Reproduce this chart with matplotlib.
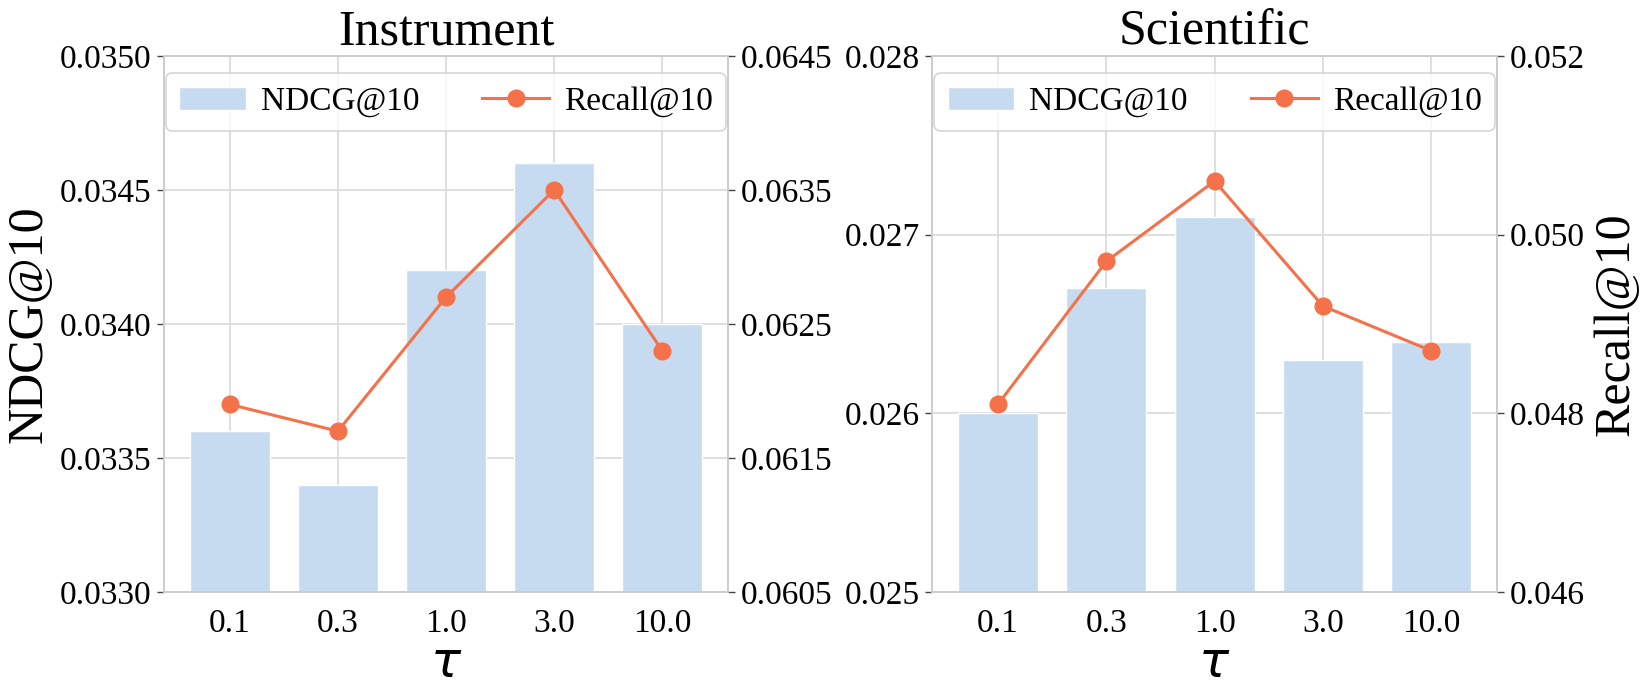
import numpy as np
import matplotlib
matplotlib.use('Agg')
import matplotlib.pyplot as plt

# Data
taus = ['0.1', '0.3', '1.0', '3.0', '10.0']

instrument_ndcg = [0.0336, 0.0334, 0.0342, 0.0346, 0.0340]
instrument_recall = [0.0619, 0.0617, 0.0627, 0.0635, 0.0623]

scientific_ndcg = [0.0260, 0.0267, 0.0271, 0.0263, 0.0264]
scientific_recall = [0.0481, 0.0497, 0.0506, 0.0492, 0.0487]

instrument_left_ticks = [0.0330, 0.0335, 0.0340, 0.0345, 0.0350]
instrument_right_ticks = [0.0605, 0.0615, 0.0625, 0.0635, 0.0645]
scientific_left_ticks = [0.025, 0.026, 0.027, 0.028]
scientific_right_ticks = [0.046, 0.048, 0.050, 0.052]

bar_color = '#c6dbef'
line_color = '#f4714a'
grid_color = '#d9d9d9'
spine_color = '#cccccc'

plt.rcParams['font.family'] = ['Liberation Serif', 'DejaVu Serif']
plt.rcParams['mathtext.fontset'] = 'dejavusans'

fig = plt.figure(figsize=(16.44, 6.97), dpi=100)
ax_a = fig.add_axes([0.0998, 0.1507, 0.343, 0.769])
ax_b = fig.add_axes([0.567, 0.1507, 0.3436, 0.769])


def draw_panel(ax, title, ndcg, recall, left_ticks, right_ticks, left_fmt, right_fmt,
               show_left_label, show_right_label):
    x = np.arange(len(taus))
    ax.set_axisbelow(True)
    bars = ax.bar(x, ndcg, width=0.74, color=bar_color, edgecolor='white',
                  linewidth=1, label='NDCG@10', zorder=2)
    ax.set_ylim(left_ticks[0], left_ticks[-1])
    ax.set_yticks(left_ticks)
    ax.set_yticklabels([left_fmt.format(t) for t in left_ticks])
    ax.set_xticks(x)
    ax.set_xticklabels(taus)
    ax.grid(True, color=grid_color, linewidth=1.2, zorder=0)
    ax.tick_params(axis='x', length=0, pad=12, labelsize=24)
    ax.tick_params(axis='y', length=5, width=1, color='#444444', pad=4, labelsize=24)
    ax.set_xlabel(r'$\tau$', fontsize=36, labelpad=2)
    ax.set_title(title, fontsize=36, pad=7)
    if show_left_label:
        ax.set_ylabel('NDCG@10', fontsize=36, labelpad=6)

    ax2 = ax.twinx()
    line, = ax2.plot(x, recall, color=line_color, linewidth=2.2, marker='o',
                     markersize=12, label='Recall@10', zorder=3)
    ax2.set_ylim(right_ticks[0], right_ticks[-1])
    ax2.set_yticks(right_ticks)
    ax2.set_yticklabels([right_fmt.format(t) for t in right_ticks])
    ax2.grid(False)
    ax2.tick_params(axis='y', length=5, width=1, color='#444444', pad=4, labelsize=24)
    if show_right_label:
        ax2.set_ylabel('Recall@10', fontsize=36, labelpad=6)

    for a in (ax, ax2):
        for s in a.spines.values():
            s.set_color(spine_color)
            s.set_linewidth(1.2)

    leg = ax2.legend([bars, line], ['NDCG@10', 'Recall@10'], loc='upper center',
                     bbox_to_anchor=(0.5, 0.968), borderaxespad=0, ncol=2, fontsize=24,
                     frameon=True, fancybox=True, columnspacing=1.9, handlelength=2.0,
                     handletextpad=0.45, borderpad=0.4, edgecolor=spine_color)
    leg.get_frame().set_linewidth(1.2)


draw_panel(ax_a, 'Instrument', instrument_ndcg, instrument_recall,
           instrument_left_ticks, instrument_right_ticks, '{:.4f}', '{:.4f}', True, False)
draw_panel(ax_b, 'Scientific', scientific_ndcg, scientific_recall,
           scientific_left_ticks, scientific_right_ticks, '{:.3f}', '{:.3f}', False, True)

fig.savefig('out.png', dpi=100)
